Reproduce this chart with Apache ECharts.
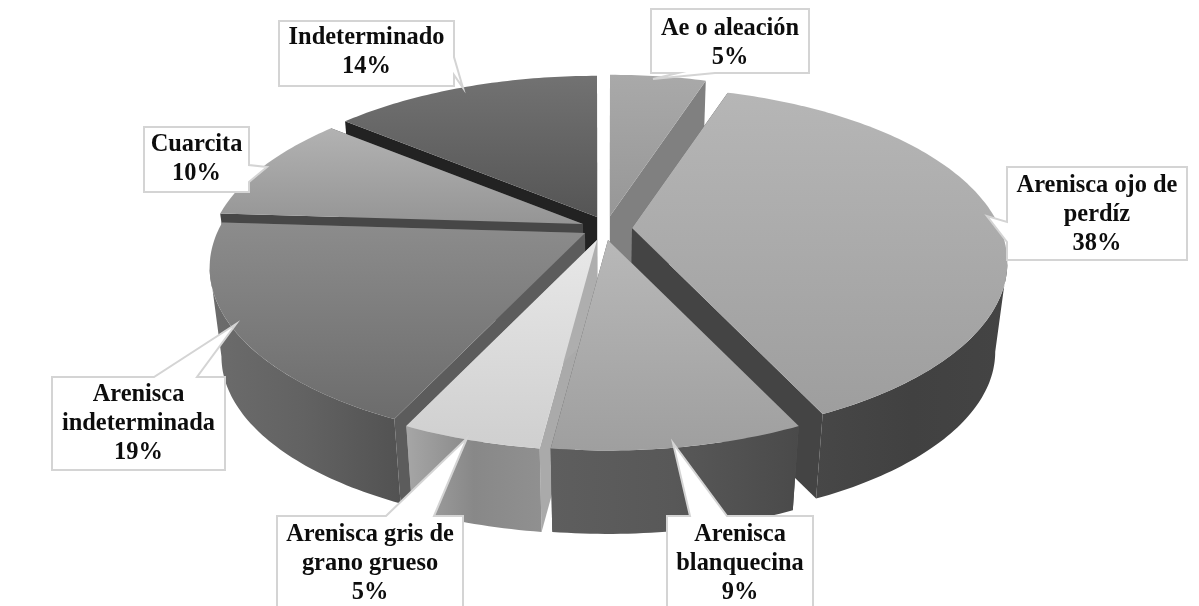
<!DOCTYPE html>
<html><head><meta charset="utf-8">
<style>html,body{margin:0;padding:0;background:#fff}#c{width:1199px;height:606px}</style>
<script src="https://cdn.jsdelivr.net/npm/echarts@6/dist/echarts.min.js"></script>
</head><body><div id="c"></div>
<script>
// ---- data ----
const categories = ['Ae o aleación','Arenisca ojo de\nperdíz','Arenisca\nblanquecina','Arenisca gris de\ngrano grueso','Arenisca\nindeterminada','Cuarcita','Indeterminado'];
const values = [5,38,9,5,19,10,14];
// ---- layout / style ----
const drawOrder = [6,0,5,1,4,3,2];
const apex = [[610,216],[632,228],[608,240],[597,240],[585,233],[583,224],[597,217]];
const topColors = [['#a9a9a9','#979797'],['#b6b6b6','#9e9e9e'],['#b8b8b8','#9f9f9f'],['#e8e8e8','#cfcfcf'],['#8c8c8c','#6c6c6c'],['#b2b2b2','#959595'],['#727272','#555555']];
const outerColors = [['#777','#777'],['#474747','#414141','#444444'],['#5e5e5e','#585858','#4a4a4a'],['#a6a6a6','#888888','#909090'],['#6c6c6c','#626262','#525252'],['#555','#555'],['#333','#333']];
const endWall = ['#808080','#444444','#555','#aeaeae','#5c5c5c','#474747','#222'];   // wall on the clockwise edge
const startWall = ['#888','#444','#555','#aaa','#5c5c5c','#474747','#222222'];       // wall on the counter-clockwise edge
const boxes = [
 {r:[651,9,809,73],  side:'b', p:[715,653,79,678], ty:43},
 {r:[1007,167,1187,260], side:'l', p:[242,987,216,222], ty:215},
 {r:[667,516,813,620], side:'t', p:[690,673,443,727], ty:564},
 {r:[277,516,463,620], side:'t', p:[386,467,438,434], ty:564},
 {r:[52,377,225,470], side:'t', p:[154,236,324,197], ty:424},
 {r:[144,127,249,192], side:'r', p:[165,267,167,182], ty:159},
 {r:[279,21,454,86], side:'r', p:[57,463,88,75], ty:52}
];
const C=[603,232], Rx=368, Ry=169, P=0.197, H=90, K=0.97;
const total = values.reduce((a,b)=>a+b,0);
const starts=[]; values.reduce((a,v,i)=>(starts[i]=a,a+v),0);
const tangent = Math.acos(-P)*180/Math.PI;   // where the rim's silhouette turns away from the viewer

function rim(i,deg){const t=deg*Math.PI/180,u=Math.sin(t),v=Math.cos(t),s=1/(1+P*v);
  return [apex[i][0]+Rx*u*s, apex[i][1]-Ry*v*s];}
function low(p){return [C[0]+K*(p[0]-C[0]), C[1]+K*(p[1]-C[1])+H];}
function grad(colors,horizontal){
  return new echarts.graphic.LinearGradient(0,0,horizontal?1:0,horizontal?0:1,
    colors.map((c,k)=>({offset:k/(colors.length-1),color:c})));
}
function poly(points,fill){return {type:'polygon',shape:{points},style:{fill,stroke:null}};}

function renderSlice(params,api){
  const i=api.value(0), a0=api.value(1)/total*360, a1=a0+api.value(2)/total*360;
  const arc=[]; const n=Math.ceil(a1-a0);
  for(let k=0;k<=n;k++) arc.push(rim(i,a0+(a1-a0)*k/n));
  const A=apex[i];
  const first=arc[0], last=arc[arc.length-1];
  const children=[
    poly([first,A,low(A),low(first)],startWall[i]),
    poly([last,A,low(A),low(last)],endWall[i])
  ];
  const f0=Math.max(a0,tangent), f1=Math.min(a1,360-tangent);
  if(f1>f0){
    const front=[]; const m=Math.ceil(f1-f0);
    for(let k=0;k<=m;k++) front.push(rim(i,f0+(f1-f0)*k/m));
    children.push(poly(front.concat(front.map(low).reverse()),grad(outerColors[i],true)));
  }
  children.push(poly([A].concat(arc),grad(topColors[i],false)));
  return {type:'group',children};
}
function boxPoints(b){
  const [x0,y0,x1,y1]=b.r,[a,tx,ty,c]=b.p;
  if(b.side==='b') return [[x0,y0],[x1,y0],[x1,y1],[a,y1],[tx,ty],[c,y1],[x0,y1]];
  if(b.side==='t') return [[x0,y0],[a,y0],[tx,ty],[c,y0],[x1,y0],[x1,y1],[x0,y1]];
  if(b.side==='l') return [[x0,y0],[x1,y0],[x1,y1],[x0,y1],[x0,a],[tx,ty],[x0,c]];
  return [[x0,y0],[x1,y0],[x1,a],[tx,ty],[x1,c],[x1,y1],[x0,y1]];
}
function renderLabel(params,api){
  const i=api.value(0), b=boxes[i];
  return {type:'group',children:[
    {type:'polygon',shape:{points:boxPoints(b)},style:{fill:'#fff',stroke:'#d4d4d4',lineWidth:2}},
    {type:'text',style:{x:(b.r[0]+b.r[2])/2,y:b.ty,text:categories[i]+'\n'+api.value(1)+'%',
      fill:'#0d0d0d',font:'bold 24.4px "Liberation Serif"',lineHeight:29,align:'center',verticalAlign:'middle'}}
  ]};
}
const chart=echarts.init(document.getElementById('c'),null,{renderer:'canvas'});
chart.setOption({
  backgroundColor:'#fff',animation:false,
  series:[
    {type:'custom',coordinateSystem:'none',renderItem:renderSlice,silent:true,z:1,
     data:drawOrder.map(i=>[i,starts[i],values[i]])},
    {type:'custom',coordinateSystem:'none',renderItem:renderLabel,silent:true,z:2,
     data:drawOrder.map(i=>[i,values[i]])}
  ]
});
</script></body></html>
